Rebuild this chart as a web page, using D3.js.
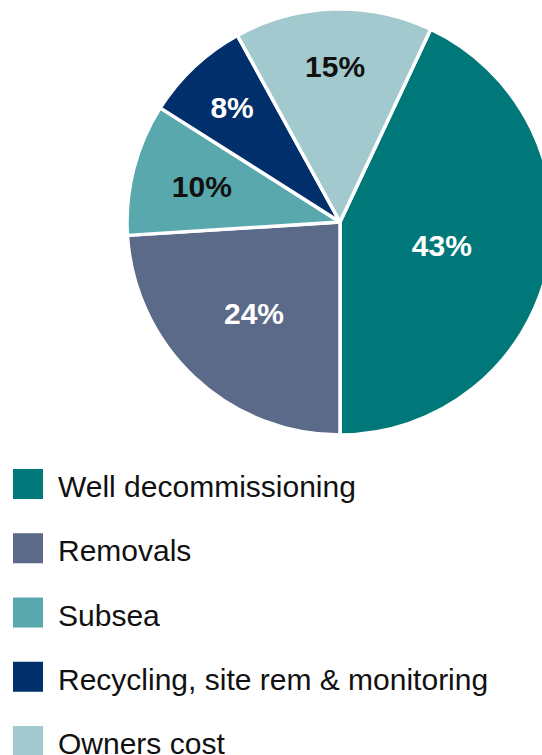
<!DOCTYPE html>
<html>
<head>
<meta charset="utf-8">
<script src="https://cdn.jsdelivr.net/npm/d3@7"></script>
<style>
  html, body { margin: 0; padding: 0; background: #fff; overflow: hidden; }
  text { font-family: "Liberation Sans", Arial, Helvetica, sans-serif; }
</style>
</head>
<body>
<div id="chart"></div>
<script>
// data
var categories = ["Well decommissioning", "Removals", "Subsea", "Recycling, site rem & monitoring", "Owners cost"];
var values = [43, 24, 10, 8, 15];
var colors = ["#007879", "#5c6a8a", "#58a8ae", "#002f6b", "#a1c9ce"];
var labelColors = ["#fff", "#fff", "#111", "#fff", "#111"];

//Width and height
var w = 542;
var h = 755;
var cx = 340, cy = 222, r = 213;
// label distance from centre, as share of radius (best-fit style placement)
var labelR = [0.49, 0.59, 0.67, 0.74, 0.73];

var svg = d3.select("#chart")
  .append("svg")
  .attr("width", w)
  .attr("height", h);

var pie = d3.pie()
  .sort(null)
  .startAngle(25.2 * Math.PI / 180)
  .endAngle(25.2 * Math.PI / 180 + 2 * Math.PI);

var arcs = pie(values);
var arc = d3.arc().innerRadius(0).outerRadius(r);

var g = svg.append("g")
  .attr("transform", "translate(" + cx + "," + cy + ")");

g.selectAll("path")
  .data(arcs)
  .enter()
  .append("path")
  .attr("d", arc)
  .attr("fill", function(d, i) { return colors[i]; })
  .attr("stroke", "#fff")
  .attr("stroke-width", 3.5)
  .attr("stroke-linejoin", "round");

g.selectAll("text.lbl")
  .data(arcs)
  .enter()
  .append("text")
  .attr("class", "lbl")
  .attr("transform", function(d, i) {
    var a = (d.startAngle + d.endAngle) / 2;
    var rr = r * labelR[i];
    return "translate(" + (Math.sin(a) * rr) + "," + (-Math.cos(a) * rr) + ")";
  })
  .attr("text-anchor", "middle")
  .attr("dy", "0.36em")
  .attr("font-size", 30)
  .attr("font-weight", "bold")
  .attr("fill", function(d, i) { return labelColors[i]; })
  .text(function(d) { return d.data + "%"; });

//legend
var legendY = d3.scalePoint()
  .domain(categories)
  .range([469, 726]);

var leg = svg.selectAll("g.legend")
  .data(categories)
  .enter()
  .append("g")
  .attr("class", "legend")
  .attr("transform", function(d) { return "translate(13," + legendY(d) + ")"; });

leg.append("rect")
  .attr("width", 30)
  .attr("height", 30)
  .attr("fill", function(d, i) { return colors[i]; });

leg.append("text")
  .attr("x", 45)
  .attr("y", 28)
  .attr("font-size", 30)
  .attr("fill", "#111")
  .text(function(d) { return d; });
</script>
</body>
</html>
